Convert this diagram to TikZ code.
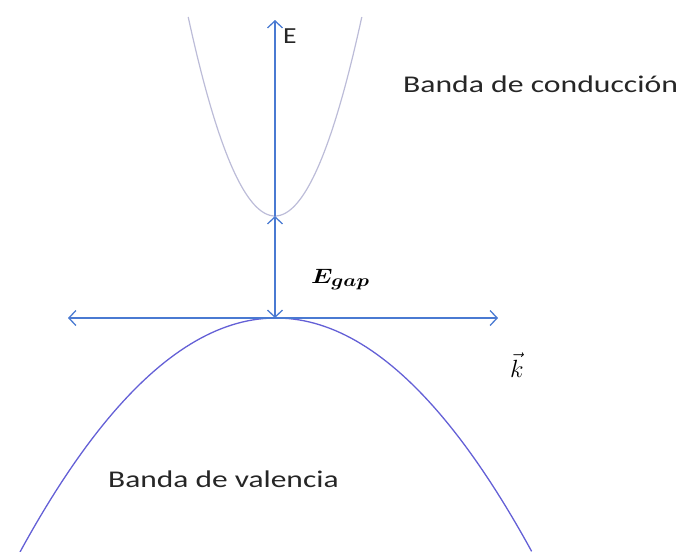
\documentclass[tikz,border=0pt]{standalone}
\usepackage{fontspec}
\newfontfamily\calibrifont{Carlito}
\usetikzlibrary{arrows.meta}
\definecolor{axisblue}{HTML}{4A7AD2}
\definecolor{valcol}{HTML}{6460D6}
\definecolor{condcol}{HTML}{BCBCD8}
\begin{document}
\begin{tikzpicture}[x=1pt,y=-1pt,
  axisline/.style={draw=axisblue,line width=1.4pt},
  barbtip/.tip={Straight Barb[length=7pt,width=15pt,line width=1.3pt]},
  bandlabel/.style={inner sep=0pt,anchor=base west,font=\calibrifont\fontsize{24}{28}\selectfont,text=black!85},
  mathlabel/.style={inner sep=0pt,anchor=base west}]
\useasboundingbox (0,0) rectangle (681,552);
% key points
\coordinate (Etop) at (275,20);
\coordinate (cmin) at (275,216);
\coordinate (origin) at (275,318);
\coordinate (kleft) at (68,318);
\coordinate (kright) at (498,318);
% bands
\draw[condcol,line width=1.2pt] plot[domain=-1:1,samples=80] ({275+86.8*\x},{216-199*\x*\x});
\draw[valcol,line width=1.3pt] plot[domain=-1:1,samples=100] ({276+256*\x},{318+234*\x*\x});
% axes
\draw[axisline,-{barbtip}] (cmin) -- (Etop);
\draw[axisline,{barbtip}-{barbtip}] (cmin) -- (origin);
\draw[axisline,{barbtip}-{barbtip}] (kleft) -- (kright);
% labels
\node[inner sep=0pt,anchor=base west,font=\calibrifont\fontsize{23}{26}\selectfont,text=black!85] (Elab) at (283,43) {\scalebox{1.2}[1]{E}};
\node[bandlabel] (cond) at (403,92) {\scalebox{1.32}[1]{Banda de conducción}};
\node[bandlabel] (val) at (108,487) {\scalebox{1.31}[1]{Banda de valencia}};
\node[mathlabel,font=\fontsize{21}{24}\selectfont] (gap) at (311,283) {\scalebox{1.2}[1]{\boldmath$E_{\scalebox{1.2}{$\scriptstyle gap$}}$}};
\node[mathlabel,font=\fontsize{25}{28}\selectfont] (klab) at (510,377) {$\vec{k}$};
\end{tikzpicture}
\end{document}
